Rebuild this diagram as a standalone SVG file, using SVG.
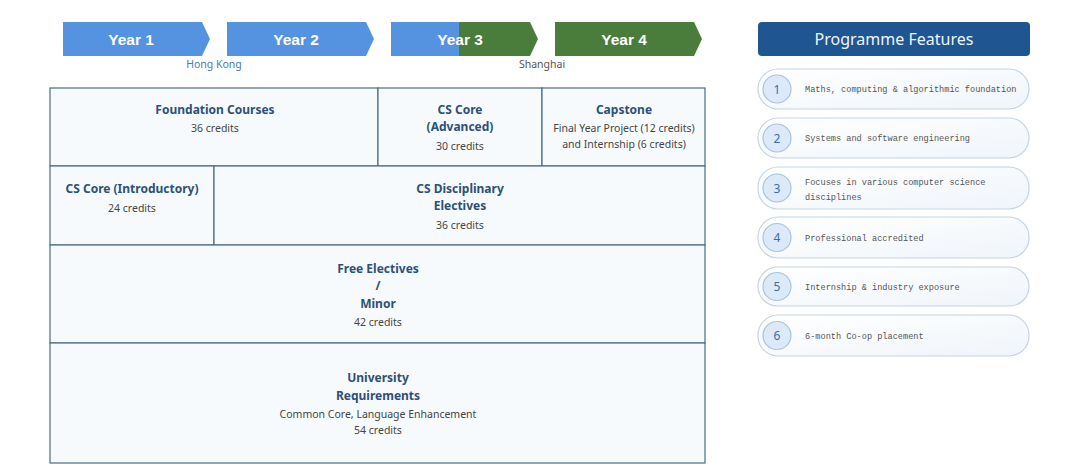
<svg xmlns="http://www.w3.org/2000/svg" width="1080" height="476" viewBox="0 0 1080 476">
<defs>
<linearGradient id="pillg" x1="0" y1="0" x2="1" y2="1">
<stop offset="0" stop-color="#ffffff"/>
<stop offset="1" stop-color="#f0f5fa"/>
</linearGradient>
<style>
.yr{font-family:"Liberation Sans",Arial,sans-serif;font-weight:bold;font-size:15.5px;fill:#ffffff;text-anchor:middle}
.blue{fill:#5592df}
.green{fill:#4a7d3b}
.loc{font-family:"Noto Sans","Open Sans",sans-serif;font-size:10.5px;text-anchor:middle}
.cell{fill:#f7fafc;stroke:#4b6b86;stroke-width:1.2}
.lbl{font-family:"Noto Sans","Open Sans",sans-serif;font-weight:bold;font-size:12px;fill:#2d5078;text-anchor:middle}
.cr{font-family:"Noto Sans","Open Sans",sans-serif;font-size:10.5px;fill:#444;text-anchor:middle}
.pill{fill:url(#pillg);stroke:#c3d4e4;stroke-width:1.2}
.num{fill:#dce9f8;stroke:#a8c3df;stroke-width:1.2}
.nt{font-family:"Noto Sans","Open Sans",sans-serif;font-size:12px;fill:#3b6da3;text-anchor:middle}
.ft{font-family:"Liberation Mono","Courier New",monospace;font-size:8.6px;fill:#555}
</style>
</defs>
<rect width="1080" height="476" fill="#ffffff"/>

<g id="year1">
<polygon class="blue" points="63,22 202,22 210,39 202,56 63,56"/>
<text class="yr" x="131" y="44.5">Year 1</text>
</g>
<g id="year2">
<polygon class="blue" points="227,22 366,22 374,39 366,56 227,56"/>
<text class="yr" x="296" y="44.5">Year 2</text>
</g>
<g id="year3">
<polygon class="green" points="391,22 530,22 538,39 530,56 391,56"/>
<rect class="blue" x="391" y="22" width="68" height="34"/>
<text class="yr" x="460" y="44.5">Year 3</text>
</g>
<g id="year4">
<polygon class="green" points="555,22 694,22 702,39 694,56 555,56"/>
<text class="yr" x="624" y="44.5">Year 4</text>
</g>
<g id="locations">
<text class="loc" x="214" y="68" fill="#4a7ab3">Hong Kong</text>
<text class="loc" x="542" y="68" fill="#555555">Shanghai</text>
</g>

<g id="foundation">
<rect class="cell" x="50" y="88" width="328" height="78"/>
<text class="lbl" x="215" y="114">Foundation Courses</text>
<text class="cr" x="215" y="132">36 credits</text>
</g>
<g id="cs-core-advanced">
<rect class="cell" x="378" y="88" width="164" height="78"/>
<text class="lbl" x="460" y="114">CS Core</text>
<text class="lbl" x="460" y="131">(Advanced)</text>
<text class="cr" x="460" y="150">30 credits</text>
</g>
<g id="capstone">
<rect class="cell" x="542" y="88" width="163" height="78"/>
<text class="lbl" x="624" y="114">Capstone</text>
<text class="cr" x="624" y="132">Final Year Project (12 credits)</text>
<text class="cr" x="624" y="148">and Internship (6 credits)</text>
</g>
<g id="cs-core-intro">
<rect class="cell" x="50" y="166" width="164" height="79"/>
<text class="lbl" x="132" y="193">CS Core (Introductory)</text>
<text class="cr" x="132" y="212">24 credits</text>
</g>
<g id="cs-electives">
<rect class="cell" x="214" y="166" width="491" height="79"/>
<text class="lbl" x="460" y="193">CS Disciplinary</text>
<text class="lbl" x="460" y="210">Electives</text>
<text class="cr" x="460" y="229">36 credits</text>
</g>
<g id="free-electives">
<rect class="cell" x="50" y="245" width="655" height="98"/>
<text class="lbl" x="378" y="273">Free Electives</text>
<text class="lbl" x="378" y="290">/</text>
<text class="lbl" x="378" y="308">Minor</text>
<text class="cr" x="378" y="326">42 credits</text>
</g>
<g id="university">
<rect class="cell" x="50" y="343" width="655" height="120"/>
<text class="lbl" x="378" y="382">University</text>
<text class="lbl" x="378" y="400">Requirements</text>
<text class="cr" x="378" y="418">Common Core, Language Enhancement</text>
<text class="cr" x="378" y="434" fill="#222">54 credits</text>
</g>

<g id="features-header">
<rect x="758" y="22" width="272" height="34" rx="4" fill="#1f5591"/>
<text x="894" y="45" font-family="'Noto Sans','Open Sans',sans-serif" font-size="16px" fill="#eef4fb" text-anchor="middle">Programme Features</text>
</g>
<g id="feature1">
<rect class="pill" x="758" y="69" width="271" height="40" rx="20"/>
<circle class="num" cx="777" cy="89" r="14"/>
<text class="nt" x="777" y="93.5">1</text>
<text class="ft" x="805" y="92">Maths, computing &amp; algorithmic foundation</text>
</g>
<g id="feature2">
<rect class="pill" x="758" y="118" width="271" height="40" rx="20"/>
<circle class="num" cx="777" cy="138" r="14"/>
<text class="nt" x="777" y="142.5">2</text>
<text class="ft" x="805" y="141">Systems and software engineering</text>
</g>
<g id="feature3">
<rect class="pill" x="758" y="167" width="271" height="42" rx="20"/>
<circle class="num" cx="777" cy="188" r="14"/>
<text class="nt" x="777" y="192.5">3</text>
<text class="ft" x="805" y="184.5">Focuses in various computer science</text>
<text class="ft" x="805" y="199.5">disciplines</text>
</g>
<g id="feature4">
<rect class="pill" x="758" y="217" width="271" height="41" rx="20"/>
<circle class="num" cx="777" cy="237.5" r="14"/>
<text class="nt" x="777" y="242">4</text>
<text class="ft" x="805" y="240.5">Professional accredited</text>
</g>
<g id="feature5">
<rect class="pill" x="758" y="267" width="271" height="39" rx="19.5"/>
<circle class="num" cx="777" cy="286.5" r="14"/>
<text class="nt" x="777" y="291">5</text>
<text class="ft" x="805" y="289.5">Internship &amp; industry exposure</text>
</g>
<g id="feature6">
<rect class="pill" x="758" y="315" width="271" height="41" rx="20"/>
<circle class="num" cx="777" cy="335.5" r="14"/>
<text class="nt" x="777" y="340">6</text>
<text class="ft" x="805" y="338.5">6-month Co-op placement</text>
</g>
<g id="connectors"/>
</svg>
